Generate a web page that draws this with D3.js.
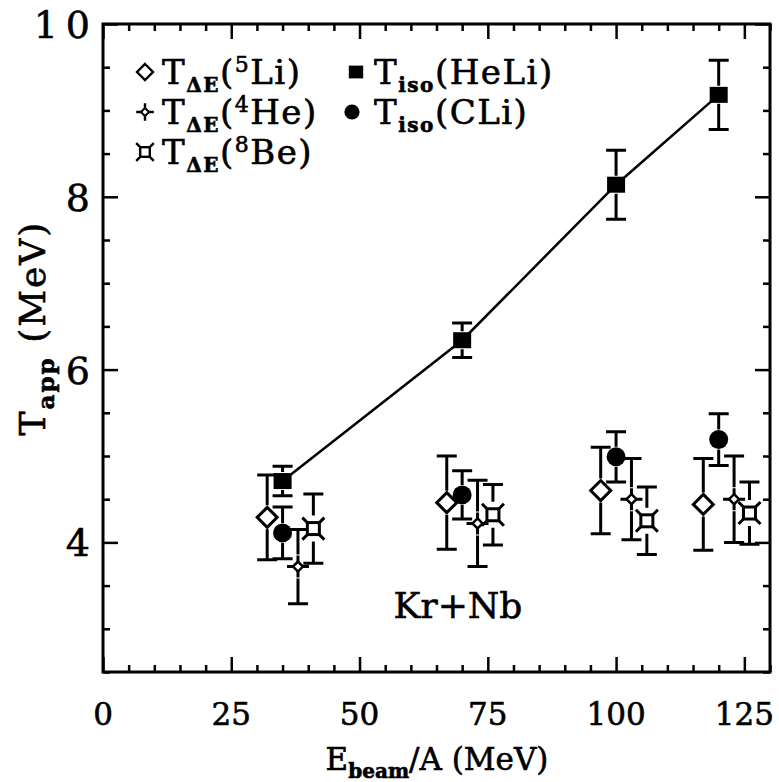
<!DOCTYPE html>
<html>
<head>
<meta charset="utf-8">
<script src="https://cdn.jsdelivr.net/npm/d3@7"></script>
<style>
  body { margin: 0; background: #fff; }
  svg text { font-family: "DejaVu Serif", "Liberation Serif", serif; fill: #000; stroke: #000; stroke-width: 0.6px; }
</style>
</head>
<body>
<svg id="chart" width="779" height="782"></svg>
<script>
// data (Kr+Nb)
var energy5Li = [32, 67, 97, 117],
    temp5Li   = [4.29, 4.46, 4.60, 4.44],
    err5Li    = [0.49, 0.54, 0.50, 0.53];

var energy4He = [38, 73, 103, 123],
    temp4He   = [3.72, 4.22, 4.50, 4.50],
    err4He    = [0.43, 0.50, 0.47, 0.50];

var energy8Be = [41, 76, 106, 126],
    temp8Be   = [4.16, 4.32, 4.25, 4.34],
    err8Be    = [0.40, 0.35, 0.39, 0.36];

var energyIso = [35, 70, 100, 120],
    tempHeLi  = [4.71, 6.34, 8.14, 9.18],
    errHeLi   = [0.17, 0.20, 0.40, 0.40],
    tempCLi   = [4.11, 4.55, 4.99, 5.19],
    errCLi    = [0.30, 0.28, 0.29, 0.30];

var xTicks = [0, 25, 50, 75, 100, 125],
    yTicks = [4, 6, 8, 10];

var pLeft = 103, pTop = 24, pRight = 770, pBottom = 672;

var svg = d3.select("#chart");

var x = d3.scaleLinear().domain([0, 130]).range([pLeft, pRight]);
var y = d3.scaleLinear().domain([2.5, 10]).range([pBottom, pTop]);

var zip = function(xs, ys, es) {
  return xs.map(function(v, i) { return { e: v, t: ys[i], err: es[i] }; });
};

// ticks, drawn inward on all four sides
var xMinor = d3.range(0, 131, 5), yMinor = d3.range(2.5, 10.01, 0.5);

function tickAxis(axis, scale, ticks, size, transform) {
  svg.append("g")
      .attr("transform", transform)
      .call(axis(scale).tickValues(ticks).tickSize(size).tickFormat(""))
      .call(function(g) {
        g.select(".domain").remove();
        g.selectAll("line").attr("stroke", "#000").attr("stroke-width", 2.5);
      });
}
var majX = xTicks, minX = xMinor.filter(function(d) { return xTicks.indexOf(d) < 0; });
var majY = yTicks, minY = yMinor.filter(function(d) { return yTicks.indexOf(d) < 0; });

tickAxis(d3.axisTop, x, majX, 15, "translate(0," + pBottom + ")");
tickAxis(d3.axisTop, x, minX, 7, "translate(0," + pBottom + ")");
tickAxis(d3.axisBottom, x, majX, 15, "translate(0," + pTop + ")");
tickAxis(d3.axisBottom, x, minX, 7, "translate(0," + pTop + ")");
tickAxis(d3.axisRight, y, majY, 15, "translate(" + pLeft + ",0)");
tickAxis(d3.axisRight, y, minY, 7, "translate(" + pLeft + ",0)");
tickAxis(d3.axisLeft, y, majY, 15, "translate(" + pRight + ",0)");
tickAxis(d3.axisLeft, y, minY, 7, "translate(" + pRight + ",0)");

svg.append("rect")
    .attr("x", pLeft).attr("y", pTop)
    .attr("width", pRight - pLeft).attr("height", pBottom - pTop)
    .attr("fill", "none").attr("stroke", "#000").attr("stroke-width", 3);

// tick labels
svg.selectAll(".xlab")
    .data(xTicks)
  .enter().append("text")
    .attr("class", "xlab")
    .attr("x", function(d) { return x(d); })
    .attr("y", 725)
    .attr("text-anchor", "middle")
    .style("font-size", "31px")
    .text(function(d) { return d; });

svg.selectAll(".ylab")
    .data(yTicks)
  .enter().append("text")
    .attr("class", "ylab")
    .attr("x", function(d) { return d === 10 ? 98 : 90; })
    .attr("y", function(d) { return y(d) + 14; })
    .attr("text-anchor", "end")
    .style("font-size", "38px")
    .style("letter-spacing", function(d) { return d === 10 ? "8px" : null; })
    .text(function(d) { return d; });

// axis titles
var xt = svg.append("text")
    .attr("x", 437).attr("y", 770)
    .attr("text-anchor", "middle")
    .style("font-size", "31px");
xt.append("tspan").text("E");
xt.append("tspan").attr("dy", 8).style("font-size", "20px").style("font-weight", "bold").text("beam");
xt.append("tspan").attr("dy", -8).text("/A (MeV)");

var yt = svg.append("text")
    .attr("transform", "translate(45,328) rotate(-90)")
    .attr("text-anchor", "middle")
    .style("font-size", "36px")
    .style("letter-spacing", "2px");
yt.append("tspan").text("T");
yt.append("tspan").attr("dy", 9).style("font-size", "23px").style("font-weight", "bold").text("app");
yt.append("tspan").attr("dy", -9).text(" (MeV)");

svg.append("text")
    .attr("x", 458).attr("y", 618)
    .attr("text-anchor", "middle")
    .style("font-size", "36px")
    .text("Kr+Nb");

// marker shapes
var markers = {
  diamond: function(g) {
    g.append("path").attr("d", "M0,-10L10,0L0,10L-10,0Z")
      .attr("fill", "#fff").attr("stroke", "#000").attr("stroke-width", 3);
  },
  star: function(g) {
    g.append("path").attr("d", "M0,-11L0,-4M0,4L0,11M-11,0L-4,0M4,0L11,0")
      .attr("stroke", "#000").attr("stroke-width", 3);
    g.append("path").attr("d", "M0,-5L5,0L0,5L-5,0Z")
      .attr("fill", "#fff").attr("stroke", "#000").attr("stroke-width", 2.5);
  },
  crossSq: function(g) {
    g.append("path").attr("d", "M-6,-6L-11,-11M6,-6L11,-11M6,6L11,11M-6,6L-11,11")
      .attr("stroke", "#000").attr("stroke-width", 3);
    g.append("rect").attr("x", -6).attr("y", -6).attr("width", 12).attr("height", 12)
      .attr("fill", "#fff").attr("stroke", "#000").attr("stroke-width", 3);
  },
  square: function(g) {
    g.append("rect").attr("x", -9).attr("y", -8).attr("width", 18).attr("height", 16)
      .attr("fill", "#000");
  },
  circle: function(g) {
    g.append("circle").attr("r", 9.5).attr("fill", "#000");
  }
};

// HeLi connecting line
svg.append("path")
    .datum(zip(energyIso, tempHeLi, errHeLi))
    .attr("fill", "none").attr("stroke", "#000").attr("stroke-width", 2.5)
    .attr("d", d3.line().x(function(d) { return x(d.e); }).y(function(d) { return y(d.t); }));

function series(data, shape, gap, cap) {
  var g = svg.append("g");
  var pts = g.selectAll("g")
      .data(data)
    .enter().append("g")
      .attr("transform", function(d) { return "translate(" + x(d.e) + "," + y(d.t) + ")"; });
  pts.append("path")
      .attr("stroke", "#000").attr("stroke-width", 3).attr("fill", "none")
      .attr("d", function(d) {
        var up = y(d.t + d.err) - y(d.t), dn = y(d.t - d.err) - y(d.t);
        var p = "";
        if (-up > gap) p += "M0," + (-gap) + "L0," + up;
        if (dn > gap) p += "M0," + gap + "L0," + dn;
        p += "M" + (-cap) + "," + up + "L" + cap + "," + up;
        p += "M" + (-cap) + "," + dn + "L" + cap + "," + dn;
        return p;
      });
  pts.each(function() { markers[shape](d3.select(this)); });
}

series(zip(energy5Li, temp5Li, err5Li), "diamond", 12, 10);
series(zip(energy4He, temp4He, err4He), "star", 12, 10);
series(zip(energy8Be, temp8Be, err8Be), "crossSq", 13, 10);
series(zip(energyIso, tempHeLi, errHeLi), "square", 9, 10);
series(zip(energyIso, tempCLi, errCLi), "circle", 10, 10);

// legend
var legendItems = [
  { shape: "diamond", x: 145, y: 72,  tx: 17, sub: "\u0394E", sup: "5", rest: "Li)" },
  { shape: "star",    x: 145, y: 112, tx: 17, sub: "\u0394E", sup: "4", rest: "He)" },
  { shape: "crossSq", x: 145, y: 152, tx: 17, sub: "\u0394E", sup: "8", rest: "Be)" },
  { shape: "square",  x: 356, y: 72,  tx: 18, sub: "iso", sup: null, rest: "(HeLi)" },
  { shape: "circle",  x: 352, y: 112, tx: 22, sub: "iso", sup: null, rest: "(CLi)" }
];

var legend = svg.selectAll(".legend")
    .data(legendItems)
  .enter().append("g")
    .attr("class", "legend")
    .attr("transform", function(d) { return "translate(" + d.x + "," + d.y + ")"; });

legend.each(function(d) {
  var g = d3.select(this);
  var m = g.append("g").attr("transform", "scale(0.8)");
  markers[d.shape](m);
  var t = g.append("text").attr("x", d.tx).attr("y", 12)
      .style("font-size", "34px").style("letter-spacing", "1.5px");
  t.append("tspan").text("T");
  t.append("tspan").attr("dy", 8).style("font-size", "20px").style("font-weight", "bold").text(d.sub);
  if (d.sup) {
    t.append("tspan").attr("dy", -8).text("(");
    t.append("tspan").attr("dy", -12).style("font-size", "22px").text(d.sup);
    t.append("tspan").attr("dy", 12).text(d.rest);
  } else {
    t.append("tspan").attr("dy", -8).text(d.rest);
  }
});
</script>
</body>
</html>
